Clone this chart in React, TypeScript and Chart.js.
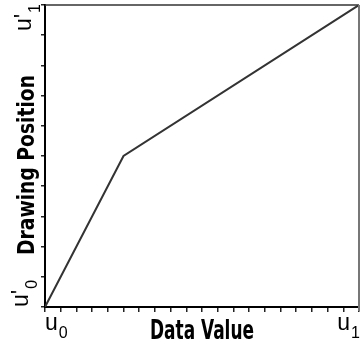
import React, { useEffect, useRef } from 'react';
import { Chart, registerables } from 'chart.js';

Chart.register(...registerables);

// ---- data ----
const dataValues = [0, 0.25, 1];
const drawingPositions = [0, 0.5, 1];

// ---- text ----
const xTitle = 'Data Value';
const yTitle = 'Drawing Position';
const xEndBases = ['u', 'u'];
const xEndSubs = ['0', '1'];
const yEndBases = ["u'", "u'"];
const yEndSubs = ['0', '1'];

const CONDENSED = '"Liberation Sans Narrow", "DejaVu Sans Condensed", "Liberation Sans", sans-serif';
const REGULAR = '"Liberation Sans", "DejaVu Sans", sans-serif';

function drawFitted(
  ctx: CanvasRenderingContext2D,
  text: string,
  font: string,
  targetWidth: number
) {
  ctx.font = font;
  const w = ctx.measureText(text).width;
  const sx = targetWidth / w;
  ctx.save();
  ctx.scale(sx, 1);
  ctx.textAlign = 'center';
  ctx.textBaseline = 'alphabetic';
  ctx.fillText(text, 0, 0);
  ctx.restore();
}

function labelWidth(ctx: CanvasRenderingContext2D, base: string, sub: string) {
  ctx.font = `23px ${REGULAR}`;
  const wb = ctx.measureText(base).width;
  ctx.font = `16px ${REGULAR}`;
  const ws = ctx.measureText(sub).width;
  return wb + 1 + ws;
}

function drawSubLabel(ctx: CanvasRenderingContext2D, base: string, sub: string, subDrop: number) {
  ctx.textAlign = 'left';
  ctx.textBaseline = 'alphabetic';
  ctx.font = `23px ${REGULAR}`;
  ctx.fillText(base, 0, 0);
  const wb = ctx.measureText(base).width;
  ctx.font = `16px ${REGULAR}`;
  ctx.fillText(sub, wb + 1, subDrop);
}

const decorPlugin = {
  id: 'decor',
  afterDraw(chart: any) {
    const ctx: CanvasRenderingContext2D = chart.ctx;
    const area = chart.chartArea;
    const xs = chart.scales.x;
    const ys = chart.scales.y;
    ctx.save();

    ctx.strokeStyle = '#333';
    ctx.lineWidth = 1.5;
    ctx.beginPath();
    ctx.moveTo(area.left, area.top);
    ctx.lineTo(area.right, area.top);
    ctx.stroke();
    ctx.strokeStyle = '#777';
    ctx.lineWidth = 2;
    ctx.beginPath();
    ctx.moveTo(area.right, area.top);
    ctx.lineTo(area.right, area.bottom + 4);
    ctx.stroke();

    ctx.fillStyle = '#000';

    const x0 = xs.getPixelForValue(0);
    ctx.save();
    ctx.translate(x0, 330);
    drawSubLabel(ctx, xEndBases[0], xEndSubs[0], 8);
    ctx.restore();
    const x1 = xs.getPixelForValue(1) + 1;
    const w1 = labelWidth(ctx, xEndBases[1], xEndSubs[1]);
    ctx.save();
    ctx.translate(x1 - w1, 330);
    drawSubLabel(ctx, xEndBases[1], xEndSubs[1], 8);
    ctx.restore();

    const y0 = ys.getPixelForValue(0);
    ctx.save();
    ctx.translate(28, y0);
    ctx.rotate(-Math.PI / 2);
    drawSubLabel(ctx, yEndBases[0], yEndSubs[0], 9);
    ctx.restore();
    const y1 = ys.getPixelForValue(1) - 1;
    const wy1 = labelWidth(ctx, yEndBases[1], yEndSubs[1]);
    ctx.save();
    ctx.translate(31, y1 + wy1);
    ctx.rotate(-Math.PI / 2);
    drawSubLabel(ctx, yEndBases[1], yEndSubs[1], 9);
    ctx.restore();

    ctx.save();
    ctx.translate((area.left + area.right) / 2, 339);
    drawFitted(ctx, xTitle, `bold 26px ${CONDENSED}`, 104);
    ctx.restore();

    ctx.save();
    ctx.translate(34, ys.getPixelForValue(0.5) + 9);
    ctx.rotate(-Math.PI / 2);
    drawFitted(ctx, yTitle, `bold 23px ${CONDENSED}`, 180);
    ctx.restore();

    ctx.restore();
  },
};

export default function App() {
  const ref = useRef<HTMLCanvasElement | null>(null);

  useEffect(() => {
    document.body.style.margin = '0';
    const canvas = ref.current;
    if (!canvas) return;
    const points = dataValues.map((x, i) => ({ x, y: drawingPositions[i] }));
    const chart = new Chart(canvas, {
      type: 'line',
      data: {
        datasets: [
          {
            data: points,
            borderColor: '#333',
            borderWidth: 2,
            pointRadius: 0,
            tension: 0,
            fill: false,
          },
        ],
      },
      options: {
        animation: false,
        responsive: false,
        devicePixelRatio: 1,
        layout: { padding: { top: 5, right: 3, left: 0, bottom: 0 } },
        plugins: { legend: { display: false }, tooltip: { enabled: false } },
        scales: {
          x: {
            type: 'linear',
            min: 0,
            max: 1,
            ticks: { display: false, stepSize: 0.05 },
            grid: { drawOnChartArea: false, drawTicks: true, tickLength: 5, color: '#222', lineWidth: 1.5 },
            border: { display: true, color: '#000', width: 2 },
            afterFit: (s: any) => {
              s.height = 36;
            },
          },
          y: {
            type: 'linear',
            min: 0,
            max: 1,
            ticks: { display: false, stepSize: 0.1 },
            grid: { drawOnChartArea: false, drawTicks: true, tickLength: 4, color: '#222', lineWidth: 1.5 },
            border: { display: true, color: '#000', width: 2 },
            afterFit: (s: any) => {
              s.width = 45;
            },
          },
        },
      },
      plugins: [decorPlugin],
    });
    return () => chart.destroy();
  }, []);

  return (
    <div style={{ width: 362, height: 343 }}>
      <canvas ref={ref} width={362} height={343} style={{ display: 'block' }} />
    </div>
  );
}
